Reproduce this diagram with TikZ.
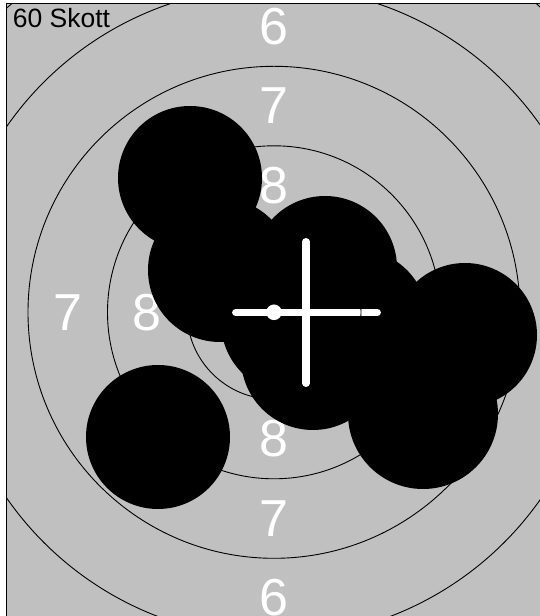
\documentclass[tikz,border=0pt]{standalone}
\usepackage{fontspec}
\setmainfont{Liberation Sans}
\definecolor{targetgray}{RGB}{192,192,192}
\begin{document}
\begin{tikzpicture}[x=1pt,y=1pt]
\tikzset{
  ringlabel/.style={text=white, inner sep=0pt, font=\fontsize{52}{52}\selectfont},
  ringline/.style={line width=0.9pt},
  hole/.style={fill=black},
  crossbar/.style={white, line width=7.3pt, line cap=round}
}
\useasboundingbox (0,0) rectangle (540,616);
\fill[white] (0,0) rectangle (540,616);
\fill[targetgray] (6.5,0) rectangle (540,612.3);
\draw[line width=1.2pt] (6.5,0) -- (6.5,612.3) -- (540,612.3);

\coordinate (c) at (274,303.7);

\begin{scope}
\clip (7.1,0) rectangle (540,611.7);
\path (c) ++(0,285.75) node[ringlabel] (six top) {6};
\path (c) ++(0,206.25) node[ringlabel] (seven top) {7};
\path (c) ++(0,126.75) node[ringlabel] (eight top) {8};
\path (c) ++(0,-126.75) node[ringlabel] (eight bottom) {8};
\path (c) ++(0,-206.25) node[ringlabel] (seven bottom) {7};
\path (c) ++(0,-285.75) node[ringlabel] (six bottom) {6};
\path (c) ++(-206.25,0) node[ringlabel] (seven left) {7};
\path (c) ++(-126.75,0) node[ringlabel] (eight left) {8};

\node[anchor=base west, inner sep=0pt, font=\fontsize{26.5}{26.5}\selectfont] (count) at (12.7,588.3) {60 Skott};

\foreach \hx/\hy/\hr in {190/438/72, 220/346/72, 325/348/72, 293/294/72, 313/258/72, 356/295/72, 465/281/72, 423/202/75, 158/179/72}
  \fill[hole] (\hx,\hy) circle[radius=\hr];

\coordinate (mpi) at (306,303.5);
\draw[crossbar] (235.7,303.5) -- (377.3,303.5);
\draw[crossbar] (306,374.3) -- (306,232.7);
\fill[white] (c) circle[radius=7.8];

\foreach \r in {87,166.5,246,325.5,405}
  \draw[ringline] (c) circle[radius=\r];
\end{scope}
\end{tikzpicture}
\end{document}
